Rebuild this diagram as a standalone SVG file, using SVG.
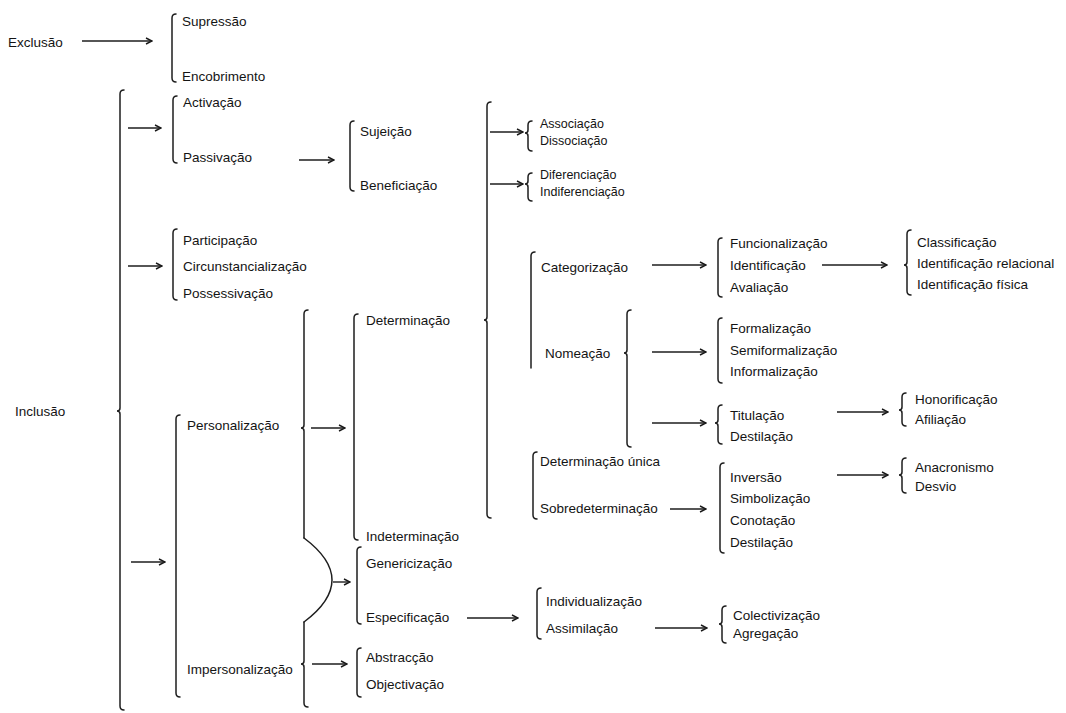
<svg xmlns="http://www.w3.org/2000/svg" width="1066" height="713" viewBox="0 0 1066 713">
<defs>
<marker id="ah" markerWidth="8" markerHeight="8" refX="7" refY="4" orient="auto" markerUnits="userSpaceOnUse">
<path d="M1,1 L7,4 L1,7" fill="none" stroke="#1a1a1a" stroke-width="1.4"/>
</marker>
<style>
text{font-family:"Liberation Sans","DejaVu Sans",sans-serif;font-size:13.5px;fill:#141414;dominant-baseline:central}
.s{font-size:12.5px}
.br{fill:none;stroke:#1e1e1e;stroke-width:1.5;stroke-linecap:round}
.ar{fill:none;stroke:#1e1e1e;stroke-width:1.4;marker-end:url(#ah)}
</style>
</defs>
<rect width="1066" height="713" fill="#ffffff"/>

<g id="connectors">
<line class="ar" x1="82" y1="41" x2="152" y2="41"/>
<line class="ar" x1="128" y1="128" x2="161" y2="128"/>
<line class="ar" x1="128" y1="266" x2="162" y2="266"/>
<line class="ar" x1="131" y1="562" x2="165" y2="562"/>
<line class="ar" x1="299" y1="160" x2="334" y2="160"/>
<line class="ar" x1="311" y1="428" x2="345" y2="428"/>
<line class="ar" x1="333" y1="582" x2="350" y2="582"/>
<line class="ar" x1="312" y1="664" x2="347" y2="664"/>
<line class="ar" x1="490" y1="132" x2="523" y2="132"/>
<line class="ar" x1="490" y1="184" x2="523" y2="184"/>
<line class="ar" x1="652" y1="265" x2="706" y2="265"/>
<line class="ar" x1="652" y1="352" x2="706" y2="352"/>
<line class="ar" x1="652" y1="423" x2="706" y2="423"/>
<line class="ar" x1="822" y1="265" x2="887" y2="265"/>
<line class="ar" x1="837" y1="412" x2="888" y2="412"/>
<line class="ar" x1="837" y1="475" x2="888" y2="475"/>
<line class="ar" x1="670" y1="509" x2="706" y2="509"/>
<line class="ar" x1="467" y1="618" x2="518" y2="618"/>
<line class="ar" x1="655" y1="628" x2="707" y2="628"/>
<path class="br" d="M304,538 Q360,580 304,622"/>
</g>

<g id="brackets">
<path id="b-exclusao" class="br" d="M176,14 Q172,14 172,18 V78 Q172,82 176,82"/>
<path id="b-inclusao" class="br" d="M124,90 Q120,90 120,94 V408 Q120,411 117,411 Q120,411 120,414 V706 Q120,710 124,710"/>
<path id="b-activacao" class="br" d="M177,96 Q173,96 173,100 V159 Q173,163 177,163"/>
<path id="b-sujeicao" class="br" d="M354,121 Q350,121 350,125 V187 Q350,191 354,191"/>
<path id="b-participacao" class="br" d="M177,229 Q173,229 173,233 V296 Q173,300 177,300"/>
<path id="b-personalizacao" class="br" d="M180,415 Q176,415 176,419 V693 Q176,697 180,697"/>
<path id="b-pers-right" class="br" d="M308,310 Q304,310 304,314 V425 Q304,428 301,428 Q304,428 304,431 V538"/>
<path id="b-determinacao" class="br" d="M358,314 Q354,314 354,318 V536 Q354,540 358,540"/>
<path id="b-det-group" class="br" d="M491,102 Q487,102 487,106 V317 Q487,320 484,320 Q487,320 487,323 V514 Q487,518 491,518"/>
<path id="b-associacao" class="br" d="M532,121 Q528,121 528,125 V130 Q528,133 525,133 Q528,133 528,136 V147 Q528,151 532,151"/>
<path id="b-diferenciacao" class="br" d="M532,173 Q528,173 528,177 V181 Q528,184 525,184 Q528,184 528,187 V197 Q528,201 532,201"/>
<path id="b-categorizacao" class="br" d="M535,252 Q531,252 531,256 V368"/>
<path id="b-nomeacao" class="br" d="M631,310 Q627,310 627,314 V350 Q627,353 624,353 Q627,353 627,356 V443 Q627,447 631,447"/>
<path id="b-funcionalizacao" class="br" d="M722,238 Q718,238 718,242 V293 Q718,297 722,297"/>
<path id="b-classificacao" class="br" d="M911,230 Q907,230 907,234 V262 Q907,265 904,265 Q907,265 907,268 V291 Q907,295 911,295"/>
<path id="b-formalizacao" class="br" d="M722,318 Q718,318 718,322 V379 Q718,383 722,383"/>
<path id="b-titulacao" class="br" d="M722,405 Q718,405 718,409 V420 Q718,423 715,423 Q718,423 718,426 V440 Q718,444 722,444"/>
<path id="b-honorificacao" class="br" d="M906,393 Q902,393 902,397 V407 Q902,410 899,410 Q902,410 902,413 V422 Q902,426 906,426"/>
<path id="b-det-unica" class="br" d="M537,452 Q533,452 533,456 V515 Q533,519 537,519"/>
<path id="b-inversao" class="br" d="M724,463 Q720,463 720,467 V549 Q720,553 724,553"/>
<path id="b-anacronismo" class="br" d="M906,458 Q902,458 902,462 V472 Q902,475 899,475 Q902,475 902,478 V489 Q902,493 906,493"/>
<path id="b-genericizacao" class="br" d="M361,547 Q357,547 357,551 V620 Q357,624 361,624"/>
<path id="b-impers-right" class="br" d="M304,622 V661 Q304,664 301,664 Q304,664 304,667 V703 Q304,707 308,707"/>
<path id="b-abstraccao" class="br" d="M361,648 Q357,648 357,652 V693 Q357,697 361,697"/>
<path id="b-individualizacao" class="br" d="M541,588 Q537,588 537,592 V635 Q537,639 541,639"/>
<path id="b-colectivizacao" class="br" d="M726,606 Q722,606 722,610 V621 Q722,624 719,624 Q722,624 722,627 V639 Q722,643 726,643"/>
</g>

<g id="n-exclusao"><text x="8" y="42">Exclusão</text></g>
<g id="n-supressao"><text x="182" y="21">Supressão</text><text x="182" y="76">Encobrimento</text></g>
<g id="n-inclusao"><text x="15" y="411">Inclusão</text></g>
<g id="n-activacao"><text x="183" y="102">Activação</text><text x="183" y="157">Passivação</text></g>
<g id="n-sujeicao"><text x="360" y="131">Sujeição</text><text x="360" y="185">Beneficiação</text></g>
<g id="n-participacao"><text x="183" y="240">Participação</text><text x="183" y="266">Circunstancialização</text><text x="183" y="293">Possessivação</text></g>
<g id="n-associacao"><text class="s" x="540" y="124">Associação</text><text class="s" x="540" y="141">Dissociação</text></g>
<g id="n-diferenciacao"><text class="s" x="540" y="175">Diferenciação</text><text class="s" x="540" y="192">Indiferenciação</text></g>
<g id="n-categorizacao"><text x="541" y="267">Categorização</text></g>
<g id="n-funcionalizacao"><text x="730" y="243">Funcionalização</text><text x="730" y="265">Identificação</text><text x="730" y="287">Avaliação</text></g>
<g id="n-classificacao"><text x="917" y="242">Classificação</text><text x="917" y="263">Identificação relacional</text><text x="917" y="284">Identificação física</text></g>
<g id="n-determinacao"><text x="366" y="320">Determinação</text></g>
<g id="n-nomeacao"><text x="545" y="353">Nomeação</text></g>
<g id="n-formalizacao"><text x="730" y="328">Formalização</text><text x="730" y="350">Semiformalização</text><text x="730" y="371">Informalização</text></g>
<g id="n-personalizacao"><text x="187" y="425">Personalização</text></g>
<g id="n-titulacao"><text x="730" y="415">Titulação</text><text x="730" y="436">Destilação</text></g>
<g id="n-honorificacao"><text x="915" y="399">Honorificação</text><text x="915" y="419">Afiliação</text></g>
<g id="n-det-unica"><text x="540" y="461">Determinação única</text><text x="540" y="508">Sobredeterminação</text></g>
<g id="n-inversao"><text x="730" y="477">Inversão</text><text x="730" y="498">Simbolização</text><text x="730" y="520">Conotação</text><text x="730" y="542">Destilação</text></g>
<g id="n-anacronismo"><text x="915" y="467">Anacronismo</text><text x="915" y="486">Desvio</text></g>
<g id="n-indeterminacao"><text x="366" y="536">Indeterminação</text></g>
<g id="n-genericizacao"><text x="366" y="563">Genericização</text><text x="366" y="617">Especificação</text></g>
<g id="n-individualizacao"><text x="546" y="601">Individualização</text><text x="546" y="628">Assimilação</text></g>
<g id="n-colectivizacao"><text x="733" y="615">Colectivização</text><text x="733" y="633">Agregação</text></g>
<g id="n-impersonalizacao"><text x="187" y="669">Impersonalização</text></g>
<g id="n-abstraccao"><text x="366" y="657">Abstracção</text><text x="366" y="684">Objectivação</text></g>
</svg>
